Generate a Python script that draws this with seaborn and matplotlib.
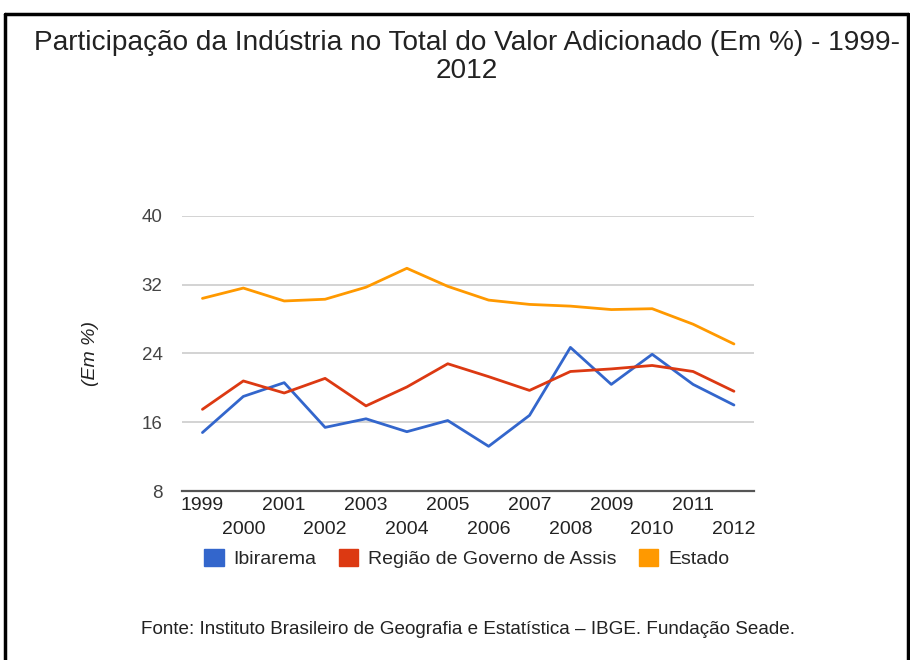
import matplotlib
matplotlib.use("Agg")
import matplotlib.pyplot as plt
from matplotlib.patches import Patch
from matplotlib.lines import Line2D
import pandas as pd
import seaborn as sns

years = list(range(1999, 2013))
ibirarema = [14.8, 19.0, 20.6, 15.4, 16.4, 14.9, 16.2, 13.2, 16.8, 24.7, 20.4, 23.9, 20.4, 18.0]
regiao = [17.5, 20.8, 19.4, 21.1, 17.9, 20.1, 22.8, 21.3, 19.7, 21.9, 22.2, 22.6, 21.9, 19.6]
estado = [30.4, 31.6, 30.1, 30.3, 31.7, 33.9, 31.8, 30.2, 29.7, 29.5, 29.1, 29.2, 27.4, 25.1]
series_names = ["Ibirarema", "Região de Governo de Assis", "Estado"]
colors = ["#3366cc", "#dc3912", "#ff9900"]
yticks = [8, 16, 24, 32, 40]

df = pd.DataFrame({"ano": years * 3,
                   "valor": ibirarema + regiao + estado,
                   "serie": [s for s in series_names for _ in years]})

sns.set_style("white")
plt.rcParams["font.family"] = ["Liberation Sans", "DejaVu Sans"]

fig = plt.figure(figsize=(9.1, 6.6), dpi=100)
ax = fig.add_axes([0.2, 0.256, 0.629, 0.417])

sns.lineplot(data=df, x="ano", y="valor", hue="serie", palette=colors,
             hue_order=series_names, linewidth=2.0, legend=False, ax=ax)

ax.set_xlim(1998.5, 2012.5)
ax.set_ylim(8, 40)
ax.set_yticks(yticks)
ax.set_yticklabels([str(t) for t in yticks], fontsize=13.5, color="#444444")
ax.set_xticks(years)
ax.set_xticklabels([str(y) if i % 2 == 0 else "\n" + str(y) for i, y in enumerate(years)],
                   fontsize=14, color="#222222", linespacing=1.55)
ax.tick_params(axis="x", length=0, pad=4)
ax.tick_params(axis="y", length=0, pad=14)
ax.grid(axis="y", color="#cccccc", linewidth=1.2)
ax.set_axisbelow(True)
for s in ["top", "right", "left"]:
    ax.spines[s].set_visible(False)
ax.spines["bottom"].set_color("#555555")
ax.spines["bottom"].set_linewidth(1.6)
ax.set_xlabel("")
ax.set_ylabel("(Em %)", fontsize=14, style="italic", color="#222222", labelpad=31)

fig.text(0.513, 0.954, "Participação da Indústria no Total do Valor Adicionado (Em %) - 1999-\n2012",
         ha="center", va="top", fontsize=20.2, color="#222222", linespacing=1.1)

handles = [Patch(facecolor=c, edgecolor=c) for c in colors]
fig.legend(handles, series_names, loc="center", bbox_to_anchor=(0.513, 0.154), ncol=3,
           frameon=False, fontsize=14, handlelength=1.0, handleheight=1.0,
           handletextpad=0.5, columnspacing=1.15)

fig.text(0.514, 0.046, "Fonte: Instituto Brasileiro de Geografia e Estatística – IBGE. Fundação Seade.",
         ha="center", va="center", fontsize=13.6, color="#222222")

# black frame around the figure (bottom edge off-image)
for xs, ys in [([0.006, 0.006], [-0.1, 0.979]), ([0.006, 0.998], [0.979, 0.979]),
               ([0.998, 0.998], [-0.1, 0.979])]:
    fig.add_artist(Line2D(xs, ys, color="black", linewidth=2.5, transform=fig.transFigure))

fig.savefig("out.png", dpi=100)
